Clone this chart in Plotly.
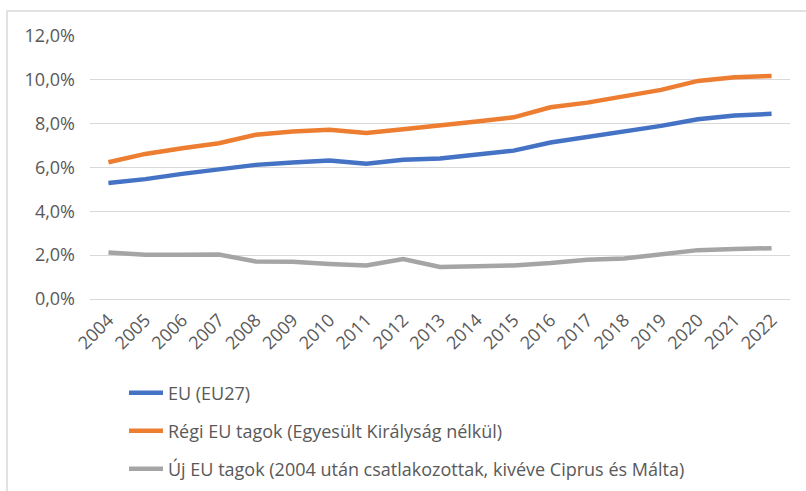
import plotly.graph_objects as go

years = [str(y) for y in range(2004, 2023)]
eu27 = [5.29, 5.47, 5.71, 5.94, 6.12, 6.23, 6.32, 6.17, 6.35, 6.41, 6.58, 6.77, 7.14, 7.38, 7.66, 7.90, 8.20, 8.37, 8.45]
regi = [6.24, 6.62, 6.88, 7.11, 7.49, 7.64, 7.72, 7.57, 7.75, 7.90, 8.10, 8.29, 8.75, 8.96, 9.27, 9.54, 9.95, 10.12, 10.18]
uj = [2.12, 2.02, 2.02, 2.03, 1.71, 1.70, 1.60, 1.53, 1.82, 1.46, 1.49, 1.53, 1.64, 1.79, 1.85, 2.05, 2.23, 2.28, 2.32]
names = ["EU (EU27)", "Régi EU tagok (Egyesült Királyság nélkül)",
         "Új EU tagok (2004 után csatlakozottak, kivéve Ciprus és Málta)"]
colors = ["#4472C4", "#ED7D31", "#A5A5A5"]
y_ticks = [0, 2, 4, 6, 8, 10, 12]
y_tick_labels = [f"{v:.1f}%".replace(".", ",") for v in y_ticks]

FONT = "Open Sans"
fig = go.Figure()
for i, (vals, nm, col) in enumerate(zip([eu27, regi, uj], names, colors)):
    fig.add_trace(go.Scatter(
        x=years, y=vals, name=nm, mode="lines",
        line=dict(color=col, width=4.5),
        showlegend=True,
        legend="legend" if i == 0 else f"legend{i+1}",
    ))

W, H = 806, 491
L, R, T, B = 90, 16, 36, 192
pw, ph = W - L - R, H - T - B

def px_x(px):
    return (px - L) / pw

def px_y(py):
    return (H - B - py) / ph

def cx(px):
    return px / W

def cy(py):
    return 1 - py / H

leg_common = dict(font=dict(family=FONT, size=18, color="#595959"),
                  bgcolor="rgba(0,0,0,0)", xanchor="left", yanchor="middle",
                  xref="container", yref="container",
                  itemwidth=34, visible=True)
fig.update_layout(
    width=W, height=H,
    margin=dict(l=L, r=R, t=T, b=B, autoexpand=False),
    paper_bgcolor="white", plot_bgcolor="white",
    showlegend=True,
    font=dict(family=FONT, size=18, color="#595959"),
    legend=dict(x=cx(124), y=cy(393), **leg_common),
    legend2=dict(x=cx(124), y=cy(431), **leg_common),
    legend3=dict(x=cx(124), y=cy(469), **leg_common),
    xaxis=dict(type="category", tickangle=-45, showgrid=False, showline=False,
               ticks="", tickfont=dict(family=FONT, size=18, color="#595959"),
               ticklabelstandoff=6, automargin=False,
               range=[-0.5, len(years) - 0.5]),
    yaxis=dict(range=[0, 12], tickvals=y_ticks, ticktext=y_tick_labels,
               gridcolor="#D9D9D9", gridwidth=1, zeroline=True, zerolinecolor="#D9D9D9",
               zerolinewidth=1, showline=False, ticks="", ticklabelstandoff=14,
               automargin=False,
               tickfont=dict(family=FONT, size=18, color="#595959")),
    shapes=[dict(type="rect", xref="paper", yref="paper",
                 x0=px_x(7), x1=px_x(830), y0=px_y(520), y1=px_y(11),
                 line=dict(color="#D9D9D9", width=1.5), fillcolor="rgba(0,0,0,0)",
                 layer="below")],
)
fig.write_html("out.html", config={"displayModeBar": False},
               post_script="document.body.style.margin='0';document.body.style.overflow='hidden';")
